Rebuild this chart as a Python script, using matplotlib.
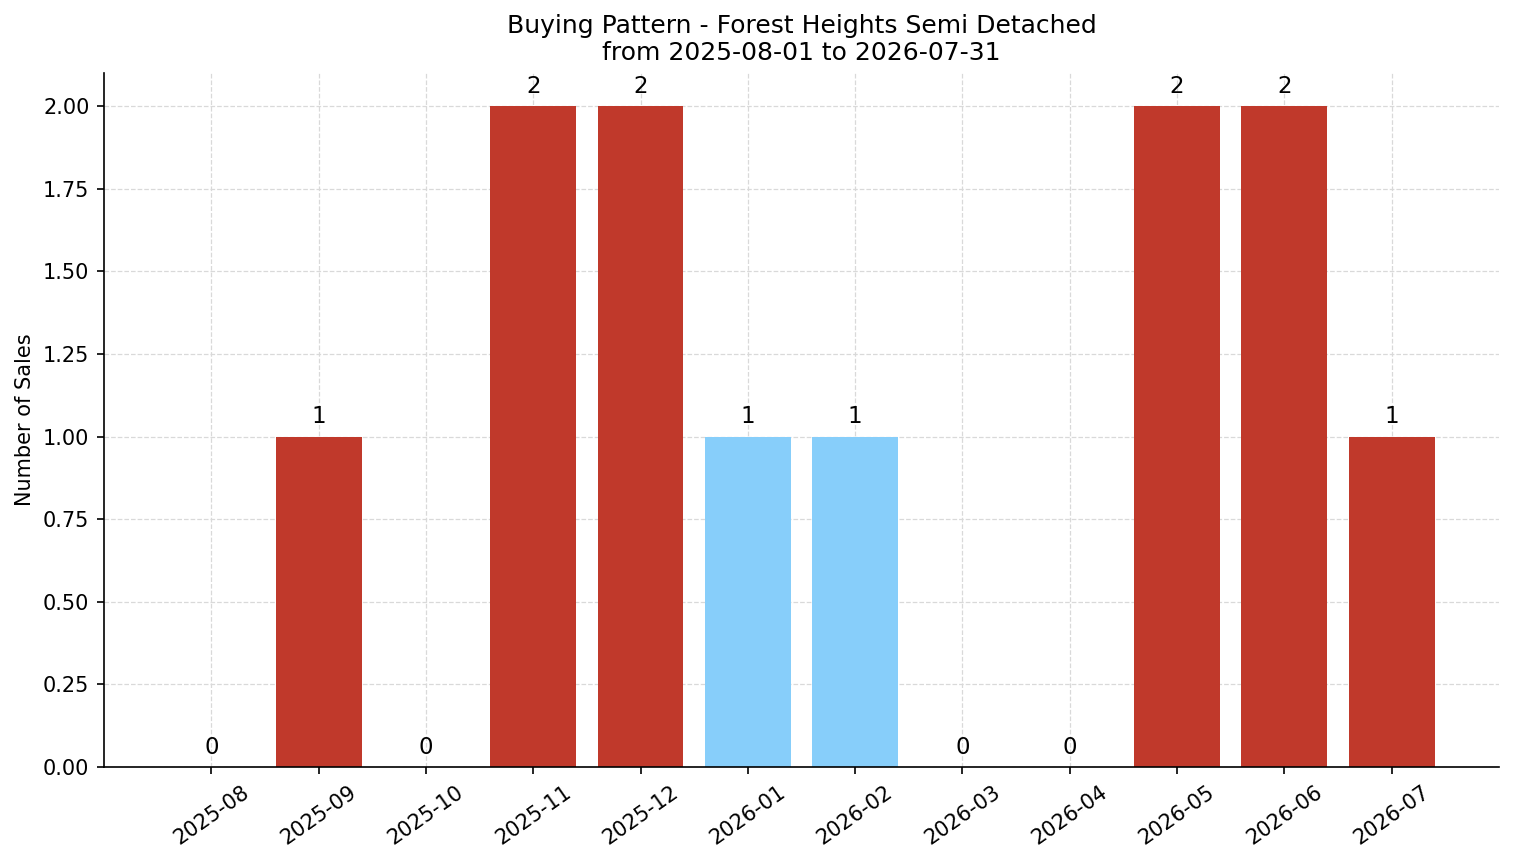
import numpy as np
import matplotlib
matplotlib.use("Agg")
import matplotlib.pyplot as plt

# data
months = ["2025-08", "2025-09", "2025-10", "2025-11", "2025-12", "2026-01",
          "2026-02", "2026-03", "2026-04", "2026-05", "2026-06", "2026-07"]
sales = [0, 1, 0, 2, 2, 1, 1, 0, 0, 2, 2, 1]
highlight = [False, False, False, False, False, True, True, False, False, False, False, False]

red = "#c0392b"
blue = "#87cefa"
colors = [blue if h else red for h in highlight]

fig = plt.figure(figsize=(1514 / 150, 863 / 150), dpi=150)
ax = fig.add_axes([104 / 1514, 96 / 863, (1499 - 104) / 1514, (767 - 73) / 863])

x = np.arange(len(months))
bars = ax.bar(x, sales, color=colors, width=0.8, zorder=2)
for b, v in zip(bars, sales):
	ax.annotate(str(v), (b.get_x() + b.get_width() / 2, v), xytext=(0, 4),
		textcoords="offset points", ha="center", va="bottom", fontsize=11)

ax.set_xticks(x)
ax.set_xticklabels(months, rotation=35, ha="center")
ax.set_xlim(-1, len(months))
ax.set_ylim(0, 2.1)
ax.set_yticks(np.arange(0, 2.01, 0.25))
ax.yaxis.set_major_formatter(matplotlib.ticker.FormatStrFormatter("%.2f"))
ax.tick_params(labelsize=10)
ax.set_ylabel("Number of Sales", fontsize=10)
ax.set_title("Buying Pattern - Forest Heights Semi Detached\nfrom 2025-08-01 to 2026-07-31", fontsize=12)
ax.grid(True, linestyle="--", color="#d9d9d9", linewidth=0.6, zorder=0)
ax.set_axisbelow(True)
ax.spines["top"].set_visible(False)
ax.spines["right"].set_visible(False)

plt.savefig("out.png", dpi=150)
